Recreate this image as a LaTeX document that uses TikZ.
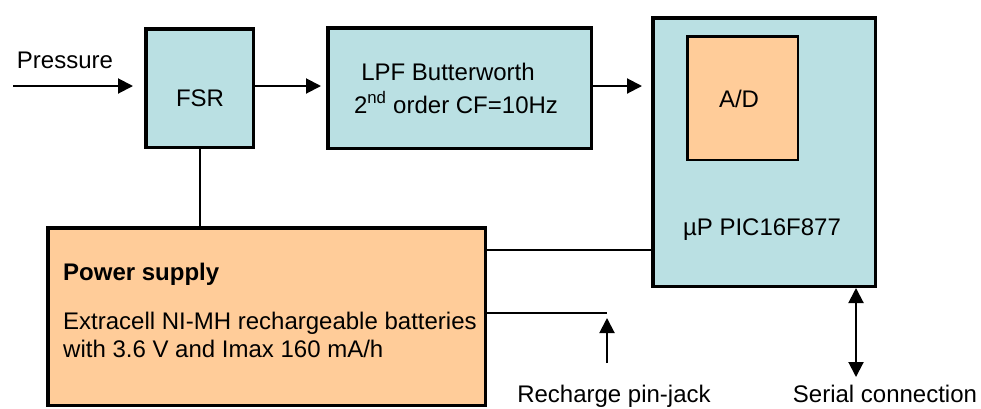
\documentclass[tikz,border=0pt]{standalone}
\usepackage{fontspec}
\setmainfont{Liberation Sans}
\usetikzlibrary{arrows.meta}

\definecolor{boxteal}{RGB}{186,224,227}
\definecolor{boxorange}{RGB}{255,204,153}

\tikzset{
  block/.style={draw, rectangle, line width=3.5pt, inner sep=0pt},
  conn/.style={line width=2pt},
  tip/.style={conn, -{Triangle[length=15pt,width=15pt]}},
  lbl/.style={anchor=base, inner sep=0pt, font=\fontsize{24}{28}\selectfont},
}

\begin{document}
\begin{tikzpicture}[x=1pt,y=-1pt]
            \useasboundingbox (0,0) rectangle (981,408);

            % Blocks
            \node (fsr) at (199.5,88) [block, fill=boxteal, minimum width=107.5pt, minimum height=118.5pt] {};
            \node (lpf) at (459.5,88) [block, fill=boxteal, minimum width=263.5pt, minimum height=120.5pt] {};
            \node (mcu) at (764,152) [block, fill=boxteal, minimum width=222.5pt, minimum height=268.5pt] {};
            \node (ad) at (742.5,98) [block, line width=2.5pt, fill=boxorange, minimum width=110.5pt, minimum height=123.5pt] {}; % converter inside the micro
            \node (psu) at (266.5,316.5) [block, fill=boxorange, minimum width=437.5pt, minimum height=177.5pt] {};

            % Signal path
            \coordinate (pin) at (13,86);
            \draw[tip, shorten >=11pt] (pin) -- (pin -| fsr.west);
            \draw[tip, shorten >=5pt] (pin -| fsr.east) -- (pin -| lpf.west);
            \draw[tip, shorten >=9pt] (pin -| lpf.east) -- (pin -| mcu.west);

            % Supply lines
            \draw[conn] (fsr.south) -- (fsr.south |- psu.north);
            \coordinate (pwr) at (0,250);
            \draw[conn] (pwr -| psu.east) -- (pwr -| mcu.west);
            \coordinate (jack) at (607,313);
            \draw[conn] (jack -| psu.east) -- (jack);
            \coordinate (jackin) at (607,363);
            \draw[tip, shorten >=5pt] (jackin) -- (jack); % charger input

            % Serial link, both ways
            \coordinate (serial) at (856,377);
            \draw[conn, {Triangle[length=15pt,width=15pt]}-{Triangle[length=15pt,width=15pt]}] (serial) -- (serial |- mcu.south);

            % Labels
            \node (pressure) at (65,68) [lbl] {Pressure};
            \node (fsrname) at (200,106) [lbl] {FSR};
            \node (lpfname) at (448,80) [lbl] {LPF Butterworth};
            \node (lpfspec) at (456,113) [lbl] {2\textsuperscript{nd} order CF=10Hz};
            \node (adname) at (739,107) [lbl] {A/D};
            \node (mcuname) at (762,235) [lbl] {µP PIC16F877};
            \node (psuname) at (63,280) [lbl, anchor=base west, font=\fontsize{24}{28}\selectfont\bfseries] {Power supply};
            \node (psuline1) at (63,329) [lbl, anchor=base west] {Extracell NI-MH rechargeable batteries};
            \node (psuline2) at (63,357) [lbl, anchor=base west] {with 3.6 V and Imax 160 mA/h};
            \node (jackname) at (614,402) [lbl] {Recharge pin-jack};
            \node (serialname) at (885,402) [lbl] {Serial connection};

        \end{tikzpicture}
\end{document}
